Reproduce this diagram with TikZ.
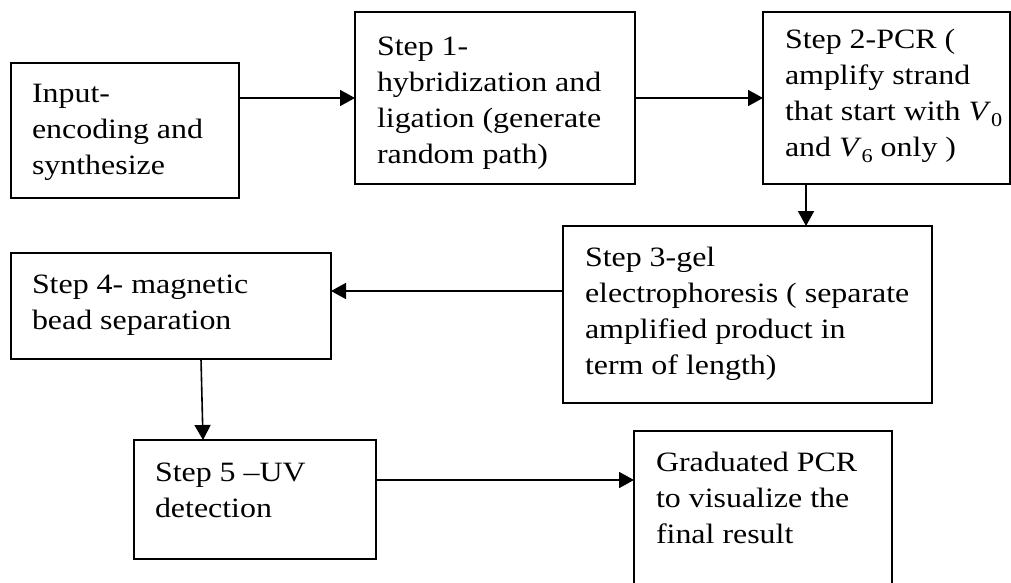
\documentclass[tikz,border=0pt]{standalone}
\usepackage{fontspec}
\setmainfont{Liberation Serif}[FakeStretch=1.14]
\usetikzlibrary{arrows.meta,calc}

\newcommand{\subidx}[1]{\raisebox{-0.22em}{\fontsize{19.5}{19.5}\selectfont #1}}

\begin{document}
\begin{tikzpicture}[x=1pt,y=-1pt,
  box/.style={draw=black,line width=1.6pt,rectangle,inner sep=0pt,outer sep=0pt},
  txt/.style={anchor=north west,inner sep=0pt,outer sep=0pt,align=left,
              font=\fontsize{28}{36}\selectfont},
  flow/.style={draw=black,line width=1.6pt,-{Triangle[length=15pt,width=16pt]}}]
\useasboundingbox (0,0) rectangle (1011,583);

% process boxes (centre, size)
\node[box,minimum width=228pt,minimum height=135pt] (A) at (125,130.5) {};
\node[box,minimum width=280pt,minimum height=172pt] (B) at (495,98) {};
\node[box,minimum width=247pt,minimum height=172pt] (C) at (886.5,98) {};
\node[box,minimum width=369pt,minimum height=177pt] (D) at (747.5,314.5) {};
\node[box,minimum width=320pt,minimum height=106pt] (E) at (171,306) {};
\node[box,minimum width=242pt,minimum height=119pt] (F) at (255,499.5) {};
\node[box,minimum width=258pt,minimum height=169pt] (G) at (763,515.5) {};

% box texts
\node[txt] (tA) at ($(A.north west)+(21,21)$) {Input-\\encoding and\\synthesize};
\node[txt] (tB) at ($(B.north west)+(22,25)$) {Step 1-\\hybridization and\\ligation (generate\\random path)};
\node[txt] (tC) at ($(C.north west)+(22,17)$) {Step 2-PCR (\\amplify strand\\that start with \textit{V}\subidx{0}\\and \textit{V}\subidx{6} only )};
\node[txt] (tD) at ($(D.north west)+(22,21)$) {Step 3-gel\\electrophoresis ( separate\\amplified product in\\term of length)};
\node[txt] (tE) at ($(E.north west)+(21,22)$) {Step 4- magnetic\\bead separation};
\node[txt] (tF) at ($(F.north west)+(21,23)$) {Step 5 –UV\\detection};
\node[txt] (tG) at ($(G.north west)+(22,21)$) {Graduated PCR\\to visualize the\\final result};

% connectors
\draw[flow] (A.east |- B.west) -- (B.west);
\draw[flow] (B.east) -- (C.west);
\coordinate (cOut) at ($(C.south west)+(43,0)$);
\draw[flow] (cOut) -- (cOut |- D.north);
\coordinate (dOut) at ($(D.west)+(0,-23.5)$);
\draw[flow] (dOut) -- (dOut -| E.east);
\coordinate (eOut) at ($(E.south west)+(190,0)$);
\coordinate (fIn) at ($(F.north west)+(69,0)$);
\draw[flow] (eOut) -- (fIn);
\coordinate (fOut) at ($(F.east)+(0,-19.5)$);
\draw[flow] (fOut) -- (fOut -| G.west);
\end{tikzpicture}
\end{document}
